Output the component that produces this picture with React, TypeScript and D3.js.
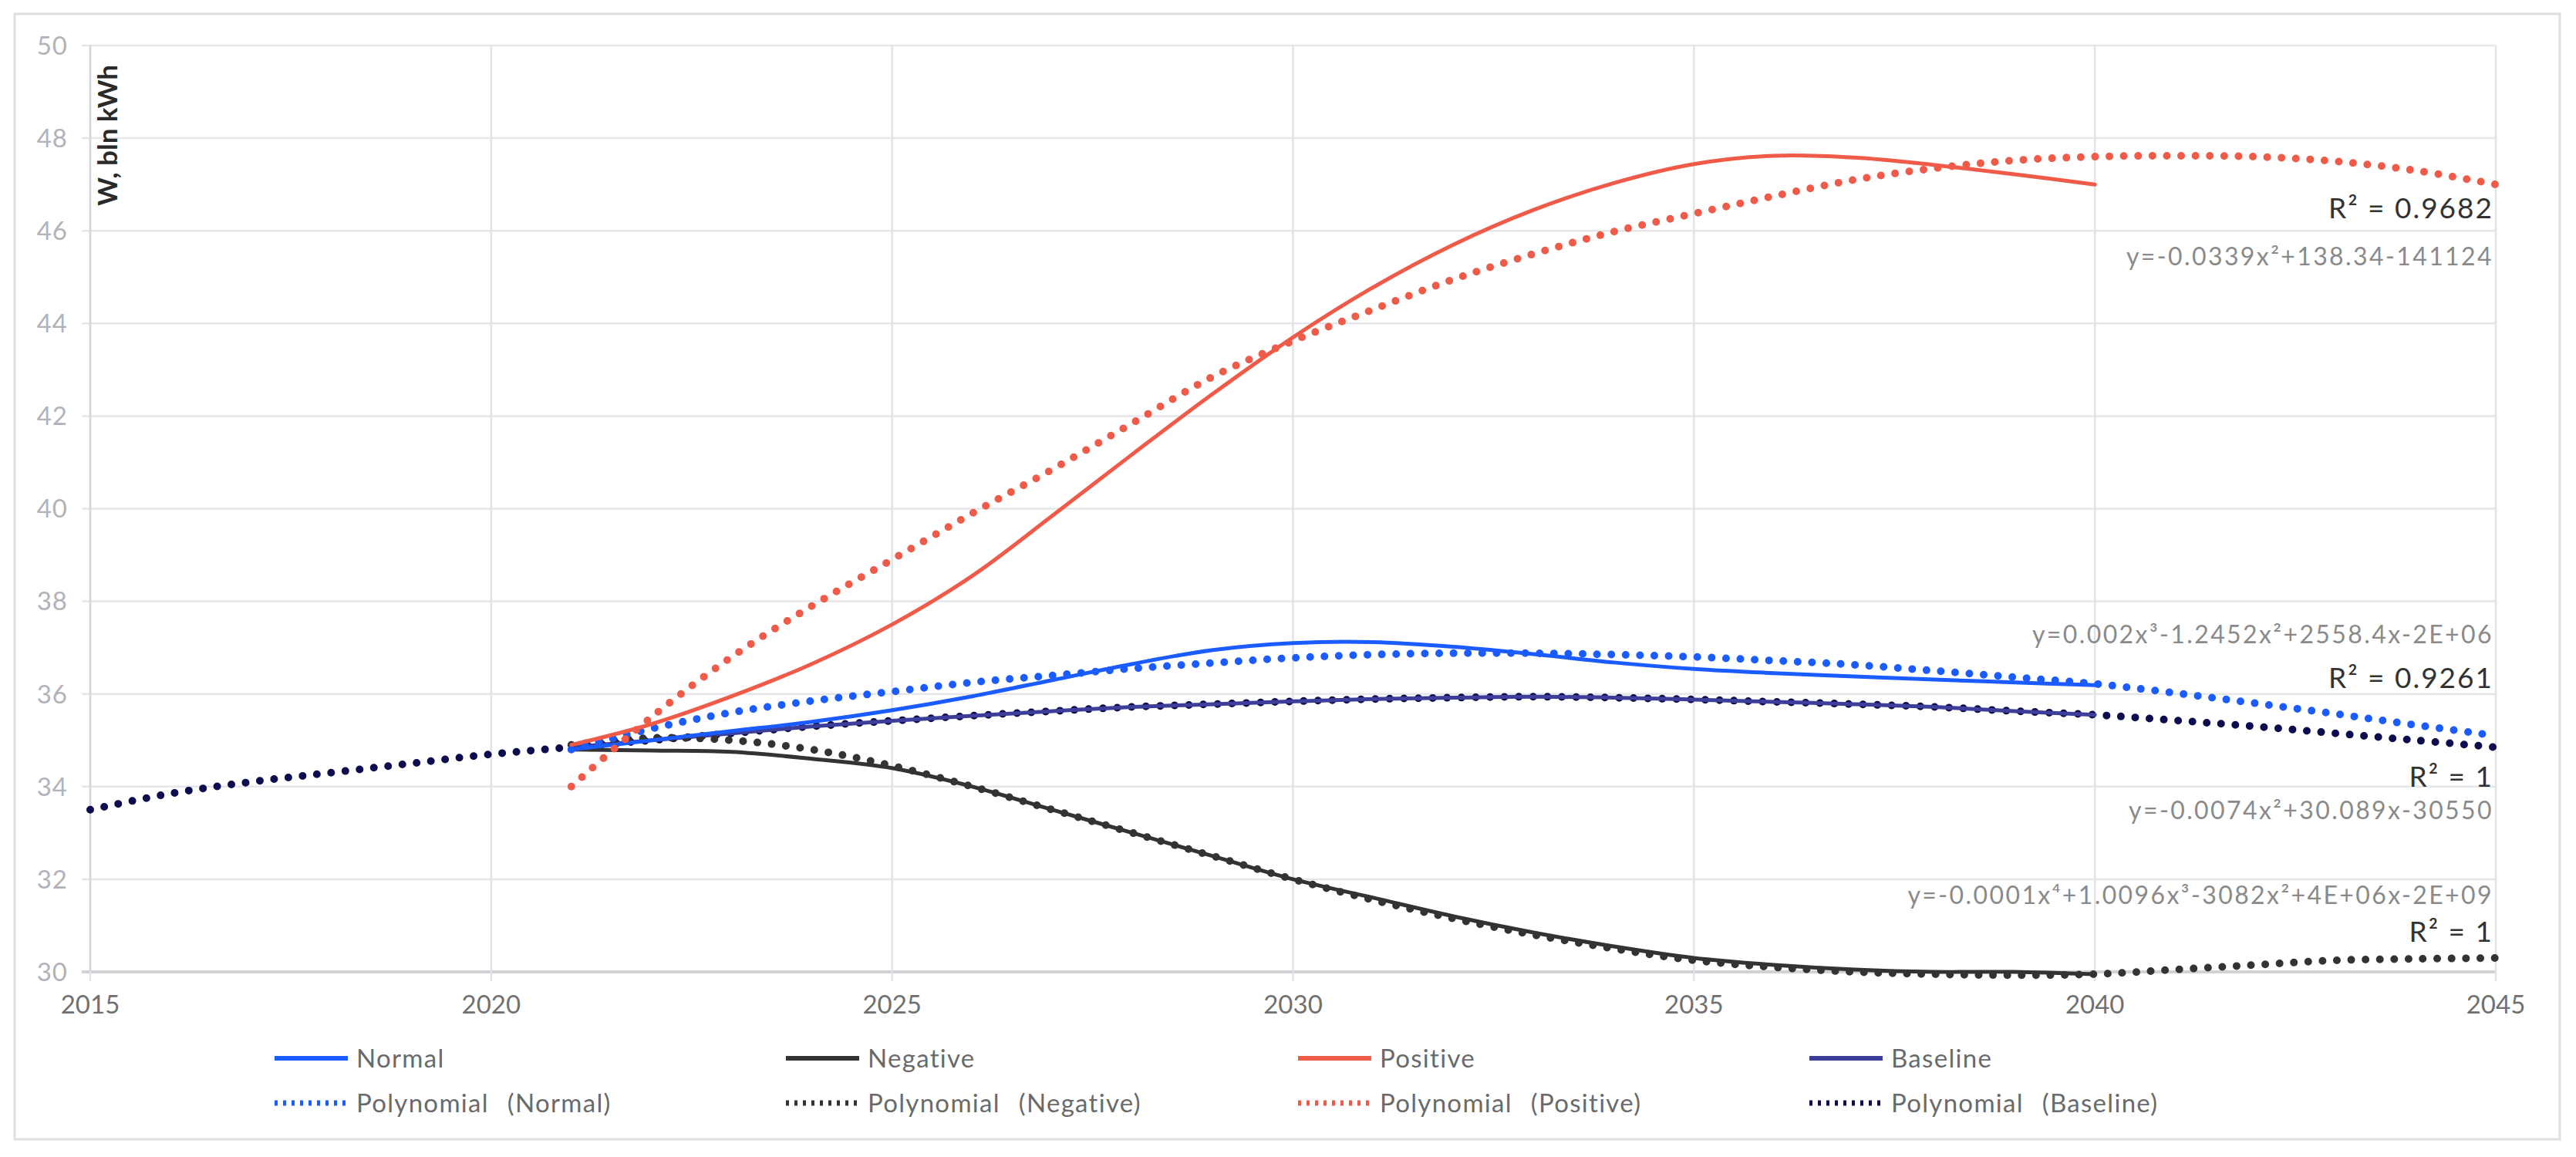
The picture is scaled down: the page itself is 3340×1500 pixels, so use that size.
import React from "react";
import * as d3 from "d3";

const years = d3.range(2021, 2041);
const yearsTrend = d3.range(2021, 2046);
const yearsBaseTrend = d3.range(2015, 2046);

const normal = [34.8, 35.0, 35.2, 35.4, 35.65, 35.95, 36.3, 36.65, 36.95, 37.1, 37.12, 37.02, 36.86, 36.68, 36.54, 36.45, 36.38, 36.31, 36.25, 36.19];
const negative = [34.8, 34.78, 34.75, 34.6, 34.4, 34.0, 33.5, 33.0, 32.5, 32.0, 31.6, 31.2, 30.85, 30.55, 30.3, 30.15, 30.05, 30.0, 30.0, 29.95];
const positive = [34.9, 35.35, 35.95, 36.65, 37.5, 38.55, 39.85, 41.18, 42.48, 43.7, 44.78, 45.7, 46.45, 47.03, 47.44, 47.62, 47.58, 47.42, 47.22, 47.0];
const baseline = [34.85, 35.0, 35.15, 35.3, 35.42, 35.53, 35.63, 35.72, 35.78, 35.84, 35.89, 35.92, 35.94, 35.92, 35.88, 35.83, 35.78, 35.72, 35.63, 35.55];

const normalTrend = [34.8, 35.25, 35.6, 35.85, 36.05, 36.25, 36.4, 36.55, 36.67, 36.78, 36.85, 36.88, 36.88, 36.85, 36.8, 36.72, 36.63, 36.5, 36.36, 36.22, 36.02, 35.8, 35.57, 35.33, 35.1];
const negativeTrend = [34.9, 35.05, 35.0, 34.8, 34.45, 34.0, 33.5, 33.0, 32.5, 32.0, 31.55, 31.15, 30.8, 30.5, 30.25, 30.1, 30.0, 29.95, 29.93, 29.95, 30.05, 30.15, 30.25, 30.28, 30.3];
const positiveTrend = [34.0, 35.5, 36.8, 37.9, 38.9, 39.9, 40.85, 41.85, 42.85, 43.62, 44.3, 44.95, 45.5, 45.98, 46.37, 46.75, 47.1, 47.35, 47.52, 47.6, 47.62, 47.6, 47.5, 47.3, 47.0];
const baselineTrend = [33.5, 33.85, 34.1, 34.3, 34.5, 34.7, 34.85, 35.0, 35.15, 35.3, 35.42, 35.53, 35.63, 35.72, 35.78, 35.84, 35.89, 35.92, 35.94, 35.92, 35.88, 35.83, 35.78, 35.72, 35.63, 35.55, 35.43, 35.3, 35.15, 35.0, 34.85];

const xTicks = [2015, 2020, 2025, 2030, 2035, 2040, 2045];
const yTicks = [30, 32, 34, 36, 38, 40, 42, 44, 46, 48, 50];

const legendNames = ["Normal", "Negative", "Positive", "Baseline"];
const legendTrendNames = ["(Normal)", "(Negative)", "(Positive)", "(Baseline)"];

const annotations = [
  { text: "R² = 0.9682", v: 46.27, kind: "r" },
  { text: "y=-0.0339x²+138.34-141124", v: 45.26, kind: "eq" },
  { text: "y=0.002x³-1.2452x²+2558.4x-2E+06", v: 37.1, kind: "eq" },
  { text: "R² = 0.9261", v: 36.12, kind: "r" },
  { text: "R² = 1", v: 34.0, kind: "r" },
  { text: "y=-0.0074x²+30.089x-30550", v: 33.3, kind: "eq" },
  { text: "y=-0.0001x⁴+1.0096x³-3082x²+4E+06x-2E+09", v: 31.47, kind: "eq" },
  { text: "R² = 1", v: 30.65, kind: "r" },
];

const C_NORMAL = "#1a5cff";
const C_NEG = "#333333";
const C_POS = "#ef5b48";
const C_BASE = "#3d3d9a";
const C_BASE_T = "#0c0c4e";

export default function App() {
  const W = 3340, H = 1500;
  const left = 117, right = 3236, top = 59, bottom = 1260;
  const x = d3.scaleLinear().domain([2015, 2045]).range([left, right]);
  const y = d3.scaleLinear().domain([30, 50]).range([bottom, top]);
  const mk = (xs: number[], ys: number[]) =>
    d3.line<number>().x((_, i) => x(xs[i])).y((v) => y(v)).curve(d3.curveCatmullRom.alpha(0.5))(ys) || "";
  const font = "Lato, 'Open Sans', sans-serif";
  const dot = { strokeWidth: 10, strokeDasharray: "0 18.6", strokeLinecap: "round" as const, fill: "none" };
  const solid = { strokeWidth: 5, fill: "none", strokeLinecap: "round" as const };
  const colors = [C_NORMAL, C_NEG, C_POS, C_BASE];
  const tColors = [C_NORMAL, C_NEG, C_POS, C_BASE_T];
  const legX = [356, 1019, 1683, 2346];
  return (
    <svg width={W} height={H} style={{ position: "absolute", left: 0, top: 0, background: "#fff" }} fontFamily={font}>
      <rect x={19} y={18} width={3300} height={1459} fill="#fff" stroke="#dedee3" strokeWidth={3} />
      {yTicks.map((t) => (
        <g key={"y" + t}>
          <line x1={left - 11} x2={right} y1={y(t)} y2={y(t)} stroke={t === 30 ? "#d2d2d6" : "#e6e6ea"} strokeWidth={t === 30 ? 4 : 2.5} />
          <text x={left - 29} y={y(t)} dy="0.36em" textAnchor="end" fontSize={33} letterSpacing={1} fill="#b2b2ba">{t}</text>
        </g>
      ))}
      {xTicks.map((t) => (
        <g key={"x" + t}>
          <line x1={x(t)} x2={x(t)} y1={top} y2={bottom + 12} stroke="#e2e2e7" strokeWidth={2.5} />
          <text x={x(t)} y={bottom + 42} dy="0.36em" textAnchor="middle" fontSize={33} fill="#707070">{t}</text>
        </g>
      ))}
      <line x1={left} x2={left} y1={top} y2={bottom} stroke="#d6d6da" strokeWidth={2.5} />
      <text transform={`translate(${152},${84}) rotate(-90)`} textAnchor="end" fontSize={35} fontWeight={700} fill="#2a2a2a">W, bln kWh</text>

      <path d={mk(yearsBaseTrend, baselineTrend)} stroke={C_BASE_T} {...dot} />
      <path d={mk(years, baseline)} stroke={C_BASE} {...solid} />
      <path d={mk(years, negative)} stroke={C_NEG} {...solid} />
      <path d={mk(yearsTrend, negativeTrend)} stroke={C_NEG} {...dot} />
      <path d={mk(years, normal)} stroke={C_NORMAL} {...solid} />
      <path d={mk(yearsTrend, normalTrend)} stroke={C_NORMAL} {...dot} />
      <path d={mk(years, positive)} stroke={C_POS} {...solid} />
      <path d={mk(yearsTrend, positiveTrend)} stroke={C_POS} {...dot} />

      {annotations.map((a, i) => (
        <text key={"a" + i} x={right - 3} y={y(a.v)} textAnchor="end" fontSize={a.kind === "r" ? 37 : 32} letterSpacing={a.kind === "r" ? 2 : 2.4} fill={a.kind === "r" ? "#333" : "#8a8a8a"}>{a.text}</text>
      ))}

      {legendNames.map((n, i) => (
        <g key={"l" + i}>
          <line x1={legX[i]} x2={legX[i] + 95} y1={1372} y2={1372} stroke={colors[i]} strokeWidth={6} />
          <text x={legX[i] + 106} y={1372} dy="0.36em" fontSize={33} letterSpacing={1.3} fill="#6a6a6a">{n}</text>
          <line x1={legX[i]} x2={legX[i] + 95} y1={1430} y2={1430} stroke={tColors[i]} strokeWidth={7} strokeDasharray="4 7" />
          <text x={legX[i] + 106} y={1430} dy="0.36em" fontSize={33} letterSpacing={1.3} fill="#6a6a6a">
            Polynomial<tspan dx={24}>{legendTrendNames[i]}</tspan>
          </text>
        </g>
      ))}
    </svg>
  );
}
